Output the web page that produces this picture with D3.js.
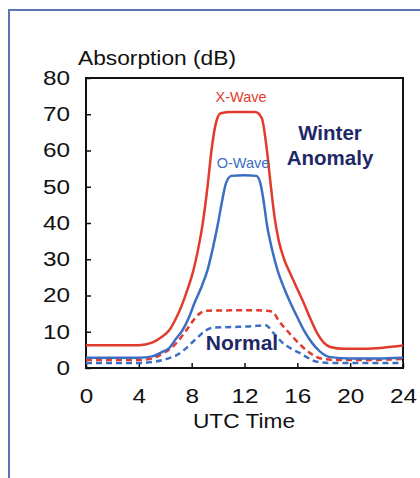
<!DOCTYPE html>
<html>
<head>
<meta charset="utf-8">
<script src="https://cdn.jsdelivr.net/npm/d3@7"></script>
<style>
  html, body { margin: 0; padding: 0; background: #fff; }
  svg { display: block; font-family: "Liberation Sans", Arial, Helvetica, sans-serif; }
</style>
</head>
<body>
<svg id="chart" width="420" height="478"></svg>
<script>
// hours (UTC) and absorption (dB)
const xWaveHours = [0, 4, 5, 5.7, 6.3, 6.8, 7.2, 7.7, 8.1, 8.5, 8.8, 9.2, 9.5, 9.8, 10.2, 11, 12, 12.8, 13.3, 13.7, 14, 14.3, 14.6, 15, 15.5, 16, 16.5, 17, 17.5, 18, 18.5, 19.5, 21, 22.5, 24];
const xWaveDb    = [6.3, 6.3, 7, 8.5, 10.4, 13.6, 16.8, 21.8, 26.5, 33, 39, 50, 60, 67, 70.3, 70.6, 70.6, 70.6, 69, 60, 50, 41, 35, 30, 25.8, 21.8, 17.8, 13.5, 9.6, 7, 5.8, 5.3, 5.3, 5.6, 6.2];

const oWaveHours = [0, 4, 5, 5.8, 6.3, 6.8, 7.3, 7.8, 8.2, 8.7, 9.2, 9.6, 10, 10.3, 10.6, 11, 12, 12.9, 13.2, 13.45, 13.7, 14.1, 14.5, 15, 15.5, 16, 16.5, 17.1, 17.7, 18.5, 20, 22, 24];
const oWaveDb    = [2.8, 2.8, 3.2, 4.5, 5.5, 8, 10.4, 14, 17.8, 22, 27, 33, 40, 46, 51, 53, 53.2, 53, 51, 46, 39.5, 32.5, 27, 22, 17.8, 14, 10.4, 7, 4.6, 3, 2.6, 2.6, 2.8];

const xNormHours = [0, 4, 5, 5.8, 6.5, 7.1, 7.6, 8.1, 8.6, 9.2, 11, 13, 14.1, 14.6, 15.2, 15.8, 16.4, 17.1, 17.8, 19, 21, 24];
const xNormDb    = [2.2, 2.2, 2.6, 4, 5.6, 8, 10.4, 13, 15, 15.8, 15.9, 15.9, 15.6, 13, 10.4, 8, 5.8, 3.8, 2.6, 2.2, 2.2, 2.5];

const oNormHours = [0, 4, 5.3, 6.2, 6.9, 7.5, 8, 8.5, 9, 9.6, 11, 12.5, 13.6, 14.2, 14.9, 15.6, 16.2, 16.8, 17.4, 18.5, 24];
const oNormDb    = [1.4, 1.4, 1.8, 2.6, 3.6, 5.2, 6.9, 8.6, 10.2, 11.1, 11.3, 11.5, 11.8, 9.6, 6.9, 5.2, 4.1, 2.8, 1.8, 1.4, 1.4];

const hourTicks = [0, 4, 8, 12, 16, 20, 24];
const dbTicks = [0, 10, 20, 30, 40, 50, 60, 70, 80];

const red = '#e13b2d';
const blue = '#3c6fc3';
const navy = '#1f2866';

const svg = d3.select('#chart');
const plot = { left: 86, right: 403, top: 78, bottom: 368 };

// outer panel border
svg.append('rect')
  .attr('x', 9).attr('y', 10)
  .attr('width', 440).attr('height', 500)
  .attr('fill', 'none')
  .attr('stroke', '#5a74b8')
  .attr('stroke-width', 2);

const x = d3.scaleLinear().domain([0, 24]).range([plot.left, plot.right]);
const y = d3.scaleLinear().domain([0, 80]).range([plot.bottom, plot.top]);

const yAxis = svg.append('g')
  .attr('transform', `translate(${plot.left},0)`)
  .call(d3.axisLeft(y).tickValues(dbTicks).tickSizeInner(-5).tickSizeOuter(0).tickPadding(16));

const xAxis = svg.append('g')
  .attr('transform', `translate(0,${plot.bottom})`)
  .call(d3.axisBottom(x).tickValues(hourTicks).tickSizeInner(-5).tickSizeOuter(0).tickPadding(21));

[yAxis, xAxis].forEach(g => {
  g.select('.domain').remove();
  g.selectAll('.tick line').attr('stroke', '#111').attr('stroke-width', 1.5);
  g.selectAll('.tick text')
    .attr('font-size', 20)
    .attr('fill', '#111')
    .attr('font-family', null)
    // the original digits are set a little wider than Liberation Sans
    .attr('textLength', d => String(d).length * 13.5)
    .attr('lengthAdjust', 'spacingAndGlyphs');
});

// plot frame
svg.append('rect')
  .attr('x', plot.left).attr('y', plot.top)
  .attr('width', plot.right - plot.left).attr('height', plot.bottom - plot.top)
  .attr('fill', 'none')
  .attr('stroke', '#111')
  .attr('stroke-width', 2);

const line = d3.line()
  .x(d => x(d[0]))
  .y(d => y(d[1]))
  .curve(d3.curveMonotoneX);

const series = [
  { hours: oNormHours, db: oNormDb, color: blue, dash: '6,4' },
  { hours: xNormHours, db: xNormDb, color: red, dash: '6,4' },
  { hours: oWaveHours, db: oWaveDb, color: blue, dash: null },
  { hours: xWaveHours, db: xWaveDb, color: red, dash: null }
];

svg.append('g')
  .selectAll('path')
  .data(series)
  .join('path')
  .attr('d', s => line(s.hours.map((h, i) => [h, s.db[i]])))
  .attr('fill', 'none')
  .attr('stroke', s => s.color)
  .attr('stroke-width', 2.5)
  .attr('stroke-dasharray', s => s.dash);

// titles and annotations
svg.append('text')
  .attr('x', 78).attr('y', 65)
  .attr('font-size', 21)
  .attr('fill', '#111')
  .attr('textLength', 158)
  .attr('lengthAdjust', 'spacingAndGlyphs')
  .text('Absorption (dB)');

svg.append('text')
  .attr('x', 244).attr('y', 428)
  .attr('text-anchor', 'middle')
  .attr('font-size', 21)
  .attr('fill', '#111')
  .attr('textLength', 102)
  .attr('lengthAdjust', 'spacingAndGlyphs')
  .text('UTC Time');

svg.append('text')
  .attr('x', 241).attr('y', 102)
  .attr('text-anchor', 'middle')
  .attr('font-size', 14.5)
  .attr('fill', red)
  .text('X-Wave');

svg.append('text')
  .attr('x', 243).attr('y', 168)
  .attr('text-anchor', 'middle')
  .attr('font-size', 14.5)
  .attr('fill', blue)
  .text('O-Wave');

const winter = svg.append('text')
  .attr('text-anchor', 'middle')
  .attr('font-size', 20.5)
  .attr('font-weight', 'bold')
  .attr('fill', navy);
winter.append('tspan').attr('x', 330).attr('y', 140).text('Winter');
winter.append('tspan').attr('x', 330).attr('y', 165).text('Anomaly');

svg.append('text')
  .attr('x', 242).attr('y', 350)
  .attr('text-anchor', 'middle')
  .attr('font-size', 21)
  .attr('font-weight', 'bold')
  .attr('fill', navy)
  .text('Normal');
</script>
</body>
</html>
